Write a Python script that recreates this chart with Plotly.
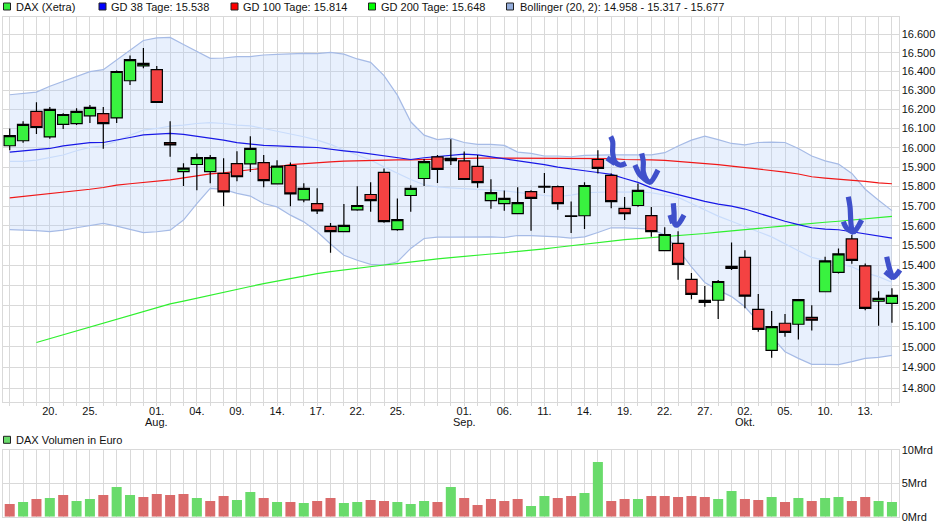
import math
import plotly.graph_objects as go

W, H = 940, 526

# ---- data ----
x_idx = list(range(67))
tick_text = {3: "20.", 6: "25.", 11: "01.", 14: "04.", 17: "09.", 20: "14.", 23: "17.", 26: "22.", 29: "25.",
             34: "01.", 37: "06.", 40: "11.", 43: "14.", 46: "19.", 49: "22.", 52: "27.", 55: "02.", 58: "05.",
             61: "10.", 64: "13."}
month_text = {11: "Aug.", 34: "Sep.", 55: "Okt."}
price_ticks = [16.6, 16.5, 16.4, 16.3, 16.2, 16.1, 16.0, 15.9, 15.8, 15.7, 15.6, 15.5, 15.4, 15.3, 15.2, 15.1,
               15.0, 14.9, 14.8]

open_ = [16.010, 16.036, 16.189, 16.056, 16.121, 16.125, 16.166, 16.178, 16.155, 16.351, 16.430, 16.410, 16.027,
         15.876, 15.913, 15.876, 15.867, 15.918, 15.916, 15.923, 15.813, 15.908, 15.732, 15.713, 15.597, 15.571,
         15.681, 15.759, 15.872, 15.581, 15.754, 15.841, 15.952, 15.933, 15.932, 15.903, 15.728, 15.713, 15.662,
         15.774, 15.801, 15.799, 15.650, 15.651, 15.939, 15.857, 15.688, 15.703, 15.652, 15.475, 15.511, 15.331,
         15.228, 15.228, 15.396, 15.441, 15.183, 14.983, 15.115, 15.110, 15.144, 15.270, 15.366, 15.534, 15.399,
         15.223, 15.213]
high = [16.100, 16.138, 16.238, 16.212, 16.180, 16.206, 16.223, 16.212, 16.405, 16.486, 16.525, 16.430, 16.138,
        15.920, 15.970, 15.962, 15.945, 15.982, 16.060, 15.962, 15.935, 15.923, 15.817, 15.791, 15.614, 15.710,
        15.801, 15.822, 15.893, 15.739, 15.807, 15.942, 15.962, 16.044, 15.980, 15.962, 15.837, 15.779, 15.796,
        15.781, 15.869, 15.805, 15.723, 15.822, 15.987, 15.867, 15.746, 15.815, 15.695, 15.593, 15.573, 15.363,
        15.298, 15.328, 15.516, 15.477, 15.259, 15.175, 15.160, 15.233, 15.204, 15.444, 15.486, 15.553, 15.411,
        15.273, 15.288]
low = [15.987, 16.026, 16.071, 16.046, 16.097, 16.118, 16.128, 15.995, 16.128, 16.328, 16.418, 16.236, 15.953,
       15.803, 15.781, 15.817, 15.699, 15.827, 15.874, 15.796, 15.813, 15.699, 15.720, 15.660, 15.464, 15.571,
       15.676, 15.671, 15.616, 15.575, 15.671, 15.803, 15.818, 15.910, 15.836, 15.793, 15.686, 15.676, 15.662,
       15.575, 15.767, 15.681, 15.564, 15.584, 15.867, 15.689, 15.629, 15.696, 15.545, 15.472, 15.330, 15.233,
       15.196, 15.136, 15.378, 15.188, 15.073, 14.947, 15.049, 15.035, 15.079, 15.268, 15.361, 15.409, 15.179,
       15.103, 15.118]
close = [16.063, 16.121, 16.105, 16.200, 16.173, 16.189, 16.210, 16.125, 16.400, 16.463, 16.443, 16.236, 16.015,
         15.894, 15.949, 15.949, 15.773, 15.850, 15.996, 15.830, 15.905, 15.762, 15.790, 15.676, 15.571, 15.602,
         15.703, 15.728, 15.621, 15.631, 15.790, 15.928, 15.888, 15.945, 15.836, 15.820, 15.769, 15.739, 15.718,
         15.739, 15.797, 15.713, 15.647, 15.805, 15.893, 15.723, 15.661, 15.780, 15.571, 15.556, 15.406, 15.257,
         15.218, 15.321, 15.386, 15.248, 15.085, 15.098, 15.070, 15.231, 15.130, 15.424, 15.459, 15.426, 15.188,
         15.237, 15.252]

gd38 = [15.977, 15.984, 15.989, 15.996, 16.009, 16.019, 16.026, 16.027, 16.039, 16.053, 16.067, 16.072, 16.074,
        16.069, 16.060, 16.051, 16.039, 16.026, 16.019, 16.012, 16.009, 16.005, 16.003, 16.001, 15.991, 15.984,
        15.977, 15.967, 15.958, 15.948, 15.939, 15.948, 15.955, 15.963, 15.967, 15.963, 15.953, 15.944, 15.934,
        15.924, 15.912, 15.900, 15.889, 15.881, 15.872, 15.862, 15.841, 15.821, 15.793, 15.775, 15.758, 15.741,
        15.724, 15.710, 15.700, 15.685, 15.664, 15.644, 15.623, 15.606, 15.590, 15.583, 15.580, 15.570, 15.560,
        15.548, 15.538]
gd100 = [15.742, 15.749, 15.758, 15.764, 15.771, 15.780, 15.786, 15.795, 15.807, 15.814, 15.820, 15.827, 15.834,
         15.844, 15.854, 15.865, 15.870, 15.877, 15.886, 15.895, 15.901, 15.912, 15.917, 15.925, 15.927, 15.930,
         15.932, 15.936, 15.937, 15.937, 15.937, 15.939, 15.941, 15.944, 15.946, 15.946, 15.946, 15.946, 15.944,
         15.944, 15.944, 15.943, 15.943, 15.943, 15.943, 15.943, 15.939, 15.939, 15.937, 15.934, 15.929, 15.924,
         15.917, 15.912, 15.905, 15.898, 15.891, 15.883, 15.874, 15.864, 15.850, 15.843, 15.838, 15.833, 15.826,
         15.819, 15.814]
gd200 = [None, None, 15.021, 15.040, 15.057, 15.076, 15.096, 15.116, 15.136, 15.155, 15.175, 15.192, 15.210,
         15.224, 15.239, 15.254, 15.269, 15.282, 15.296, 15.310, 15.323, 15.335, 15.348, 15.360, 15.370, 15.379,
         15.388, 15.395, 15.403, 15.410, 15.419, 15.427, 15.434, 15.440, 15.447, 15.452, 15.458, 15.464, 15.470,
         15.477, 15.484, 15.492, 15.500, 15.508, 15.517, 15.525, 15.530, 15.535, 15.540, 15.544, 15.550, 15.555,
         15.561, 15.568, 15.575, 15.581, 15.588, 15.593, 15.600, 15.606, 15.613, 15.618, 15.623, 15.629, 15.635,
         15.641, 15.648]
boll_upper = [16.277, 16.282, 16.291, 16.322, 16.349, 16.376, 16.399, 16.410, 16.461, 16.514, 16.566, 16.580, 16.582,
              16.544, 16.505, 16.470, 16.472, 16.479, 16.479, 16.488, 16.491, 16.495, 16.497, 16.495, 16.502, 16.493,
              16.467, 16.449, 16.378, 16.275, 16.135, 16.065, 16.042, 16.048, 16.027, 16.017, 16.017, 16.012, 15.977,
              15.971, 15.957, 15.957, 15.953, 15.960, 15.963, 15.963, 15.963, 15.962, 15.963, 15.974, 16.009, 16.039,
              16.060, 16.042, 16.022, 16.015, 16.027, 16.029, 16.027, 15.996, 15.957, 15.932, 15.915, 15.867, 15.786,
              15.730, 15.677]
boll_mid = [15.929, 15.929, 15.936, 15.948, 15.962, 15.984, 16.002, 16.010, 16.034, 16.065, 16.091, 16.100, 16.112,
            16.117, 16.126, 16.131, 16.126, 16.117, 16.114, 16.100, 16.086, 16.071, 16.057, 16.039, 16.017, 15.988,
            15.962, 15.936, 15.901, 15.867, 15.836, 15.809, 15.798, 15.793, 15.790, 15.786, 15.783, 15.778, 15.770,
            15.761, 15.754, 15.749, 15.756, 15.768, 15.771, 15.773, 15.771, 15.773, 15.768, 15.756, 15.744, 15.713,
            15.679, 15.649, 15.623, 15.595, 15.570, 15.544, 15.508, 15.474, 15.441, 15.427, 15.411, 15.394, 15.364,
            15.345, 15.317]
boll_lower = [15.581, 15.580, 15.576, 15.571, 15.578, 15.590, 15.602, 15.612, 15.598, 15.581, 15.566, 15.570, 15.578,
              15.629, 15.713, 15.790, 15.785, 15.765, 15.751, 15.713, 15.696, 15.654, 15.620, 15.570, 15.508, 15.452,
              15.427, 15.406, 15.403, 15.419, 15.486, 15.536, 15.543, 15.543, 15.544, 15.546, 15.544, 15.541, 15.551,
              15.550, 15.548, 15.544, 15.538, 15.544, 15.566, 15.590, 15.590, 15.586, 15.583, 15.553, 15.481, 15.394,
              15.316, 15.278, 15.246, 15.196, 15.123, 15.049, 14.976, 14.944, 14.915, 14.915, 14.914, 14.928, 14.944,
              14.949, 14.958]

volume = [1.9, 2.2, 2.65, 2.8, 3.25, 2.35, 2.65, 3.25, 4.45, 3.25, 2.95, 3.4, 3.25, 3.4, 2.8, 2.35, 3.1, 2.5, 3.7,
          2.8, 2.2, 2.2, 2.05, 2.35, 2.8, 2.05, 2.2, 2.5, 2.35, 2.2, 1.9, 2.35, 2.2, 4.45, 2.8, 1.75, 2.65, 2.35,
          2.65, 1.6, 3.1, 2.8, 3.1, 3.55, 8.2, 2.35, 2.65, 2.65, 3.1, 3.1, 2.95, 3.1, 2.95, 2.65, 3.85, 2.65, 2.5,
          2.95, 2.2, 2.8, 2.35, 2.8, 2.95, 2.35, 2.95, 2.35, 2.2]
volume_dir = ("r g r g r g g r g g r r r r g r r g g r g r g r r g g r r g g g r g r "
              "r r r r g g r r g g r r g r r r r r g g r r g r g r g g r r g g").split()

# hand-drawn blue arrows on the screenshot, in picture pixels (x, y)
hand_strokes = [
    [(610.7, 136.5), (612.7, 141.7), (612.7, 153), (615, 161.7), (620, 165), (626, 163.3)],
    [(607, 158), (615, 163.5)],
    [(641.7, 153.3), (643.3, 161.7), (643.3, 171.7), (646.7, 180), (650, 182.3), (658, 170)],
    [(635, 165), (640, 175), (648, 181.7)],
    [(673.3, 203.3), (674, 211.7), (675, 224.3), (677.3, 225), (684, 215)],
    [(670, 215), (672.7, 223.3)],
    [(848.3, 196.7), (850, 206.7), (851.7, 228.3), (854, 231.7), (861.7, 220)],
    [(843.3, 221.7), (846.7, 228.3), (854, 232.7)],
    [(886.7, 256.7), (890, 270), (893.3, 277.3), (900, 270)],
    [(885, 271.7), (893.3, 278.3)],
]
legend_items = [
    ("DAX (Xetra)", 3.5, 15, 3, "#33ee3c"),
    ("GD 38 Tage: 15.538", 99, 110, 3, "#0000ff"),
    ("GD 100 Tage: 15.814", 231, 242, 3, "#ff0000"),
    ("GD 200 Tage: 15.648", 368.5, 380, 3, "#00ff00"),
    ("Bollinger (20, 2): 14.958 - 15.317 - 15.677", 506.5, 518.5, 3, "#94addb"),
    ("DAX Volumen in Euro", 3.5, 15, 436.3, "#69db6b"),
]

# ---- styling ----
FONT = "Liberation Sans, Arial, sans-serif"
GRID = "#d9d9d9"
TXT = "#111111"
LEFT, RIGHT = 2.5, 898.5
M_TOP, M_BOT = 16.7, 402.0
V_TOP, V_BOT = 450.0, 516.8
X_RANGE = [-0.54, 66.49]
Y_RANGE = [math.log10(14.734), math.log10(16.694)]
tickvals = x_idx
ticktext = [tick_text.get(i, "") for i in x_idx]

fig = go.Figure()

# Bollinger band
fig.add_trace(go.Scatter(x=x_idx, y=boll_upper, mode="lines", line=dict(color="#a6bbe6", width=1.2),
                         hoverinfo="skip", showlegend=False))
fig.add_trace(go.Scatter(x=x_idx, y=boll_lower, mode="lines", line=dict(color="#a6bbe6", width=1.2),
                         fill="tonexty", fillcolor="rgba(180,205,250,0.3)", hoverinfo="skip", showlegend=False))
fig.add_trace(go.Scatter(x=x_idx, y=boll_mid, mode="lines", line=dict(color="#c9dcfb", width=1.2),
                         hoverinfo="skip", showlegend=False))
# moving averages
fig.add_trace(go.Scatter(x=x_idx, y=gd200, mode="lines", line=dict(color="#2ff02f", width=1.2),
                         hoverinfo="skip", showlegend=False))
fig.add_trace(go.Scatter(x=x_idx, y=gd100, mode="lines", line=dict(color="#f01818", width=1.2),
                         hoverinfo="skip", showlegend=False))
fig.add_trace(go.Scatter(x=x_idx, y=gd38, mode="lines", line=dict(color="#1818e6", width=1.2),
                         hoverinfo="skip", showlegend=False))
# candles on a separate hidden subplot with identical domain, so that they sit above the lines
fig.add_trace(go.Candlestick(x=x_idx, open=open_, high=high, low=low, close=close, xaxis="x3", yaxis="y3",
                             whiskerwidth=0, hoverinfo="skip", showlegend=False,
                             increasing=dict(fillcolor="#39f23f", line=dict(color="#000000", width=1.2)),
                             decreasing=dict(fillcolor="#f44242", line=dict(color="#000000", width=1.2))))
# volume
fig.add_trace(go.Bar(x=x_idx, y=volume, xaxis="x2", yaxis="y2", width=0.75, hoverinfo="skip", showlegend=False,
                     marker=dict(color=["#69db6b" if d == "g" else "#da6a6a" for d in volume_dir], line_width=0)))
# hand strokes
for stroke in hand_strokes:
    fig.add_trace(go.Scatter(x=[p[0] for p in stroke], y=[p[1] for p in stroke], mode="lines", xaxis="x4",
                             yaxis="y4", line=dict(color="#3f50cb", width=5.2, shape="spline"),
                             hoverinfo="skip", showlegend=False))

shapes = []
annotations = []
for label, sx, tx, sy, col in legend_items:
    shapes.append(dict(type="rect", xref="paper", yref="paper", x0=sx / W, x1=(sx + 7) / W, y0=1 - sy / H,
                       y1=1 - (sy + 7) / H, fillcolor=col, line=dict(color="#222222", width=1)))
    annotations.append(dict(text=label, xref="paper", yref="paper", x=(tx - 1) / W, y=1 - (sy + 3.5) / H,
                            xanchor="left", yanchor="middle", showarrow=False,
                            font=dict(family=FONT, size=11, color=TXT)))
for i, label in month_text.items():
    annotations.append(dict(text=label, xref="x", yref="paper", x=i, y=1 - 421.8 / H, xanchor="center",
                            yanchor="middle", showarrow=False, font=dict(family=FONT, size=11, color=TXT)))

axis_common = dict(showgrid=True, gridcolor=GRID, gridwidth=1, zeroline=False, showline=True, linecolor=GRID,
                   linewidth=1, mirror=True)
dom_x = [LEFT / W, RIGHT / W]
dom_main = [1 - M_BOT / H, 1 - M_TOP / H]
fig.update_layout(
    width=W, height=H, margin=dict(l=0, r=0, t=0, b=0, autoexpand=False), paper_bgcolor="white",
    plot_bgcolor="rgba(0,0,0,0)",
    font=dict(family=FONT, size=11, color=TXT), showlegend=False, boxgap=0.16, boxgroupgap=0, barmode="overlay",
    shapes=shapes, annotations=annotations,
    xaxis=dict(domain=dom_x, range=X_RANGE, anchor="y", tickmode="array", tickvals=tickvals, ticktext=ticktext,
               ticks="outside", ticklen=3, tickcolor=GRID, tickangle=0, tickfont=dict(family=FONT, size=11, color=TXT),
               ticklabelstandoff=-4, **axis_common),
    yaxis=dict(domain=dom_main, type="log", range=Y_RANGE, side="right", anchor="x",
               tickmode="array", tickvals=price_ticks, ticktext=[f"{v:.3f}" for v in price_ticks],
               ticks="", tickfont=dict(family=FONT, size=11, color=TXT), **axis_common),
    xaxis2=dict(domain=dom_x, range=X_RANGE, anchor="y2", tickmode="array", tickvals=tickvals,
                showticklabels=False, ticks="", **axis_common),
    yaxis2=dict(domain=[1 - V_BOT / H, 1 - V_TOP / H], range=[0, 10], side="right", anchor="x2", tickmode="array",
                tickvals=[0, 5, 10], ticktext=["0Mrd", "5Mrd", "10Mrd"], ticks="",
                tickfont=dict(family=FONT, size=11, color=TXT), **axis_common),
    xaxis3=dict(domain=dom_x, range=X_RANGE, visible=False, anchor="y3", rangeslider=dict(visible=False)),
    yaxis3=dict(domain=dom_main, type="log", range=Y_RANGE, visible=False, anchor="x3"),
    xaxis4=dict(domain=[0, 1], range=[0, W], visible=False, anchor="y4"),
    yaxis4=dict(domain=[0, 1], range=[H, 0], visible=False, anchor="x4"),
)

fig.write_html("out.html", config=dict(displayModeBar=False),
               post_script="document.body.style.margin='0';document.body.style.overflow='hidden';")
